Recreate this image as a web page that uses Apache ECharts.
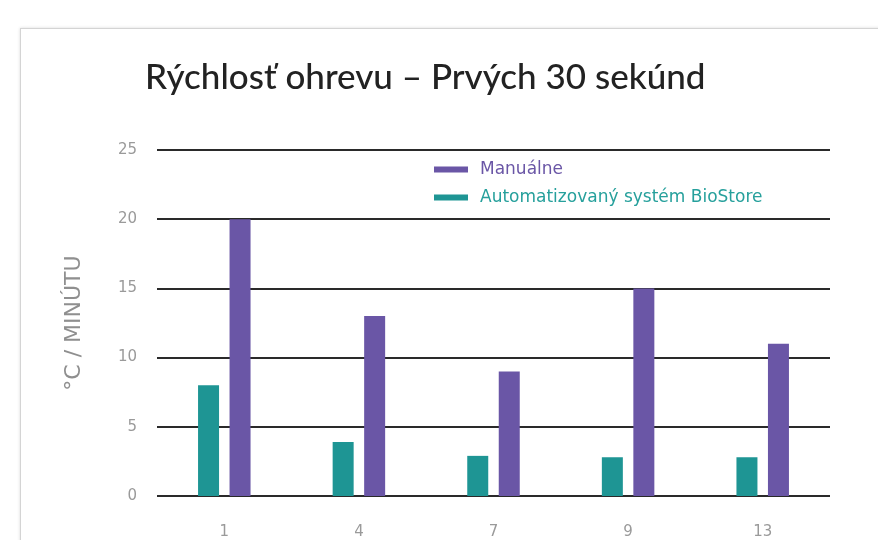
<!DOCTYPE html>
<html>
<head>
<meta charset="utf-8">
<script src="https://cdn.jsdelivr.net/npm/echarts@6/dist/echarts.min.js"></script>
<style>
  html, body { margin: 0; padding: 0; background: #fff; }
  #card { position: absolute; left: 20px; top: 28px; width: 900px; height: 600px;
          border: 1px solid #d4d4d4; box-shadow: 0 0 3px rgba(0,0,0,0.15); }
  #chart { position: absolute; left: 0; top: 0; width: 878px; height: 540px; }
</style>
</head>
<body>
<div id="card"></div>
<div id="chart"></div>
<script>
// dáta z grafu
var categories = ['1', '4', '7', '9', '13'];
var manualne = [20, 13, 9, 15, 11];
var bioStore = [8, 3.9, 2.9, 2.8, 2.8];
var yTicks = [0, 5, 10, 15, 20, 25];

var purple = '#6a56a6';
var teal = '#1e9594';

var chart = echarts.init(document.getElementById('chart'));

var option = {
    title: {
        text: 'Rýchlosť ohrevu – Prvých 30 sekúnd',
        left: 140,
        top: 55,
        textStyle: {
            fontFamily: 'Lato',
            fontSize: 35,
            fontWeight: 500,
            color: '#222'
        }
    },
    legend: {
        data: [
            { name: 'Manuálne', textStyle: { color: purple } },
            { name: 'Automatizovaný systém BioStore', textStyle: { color: '#26a09c' } }
        ],
        orient: 'vertical',
        left: 429,
        top: 156,
        itemWidth: 34,
        itemHeight: 6,
        itemGap: 11,
        icon: 'rect',
        textStyle: {
            fontFamily: 'DejaVu Sans',
            fontSize: 17,
            padding: [0, 0, 0, 7]
        }
    },
    grid: {
        left: 157,
        right: 48,
        top: 150,
        bottom: 44
    },
    xAxis: {
        type: 'category',
        data: categories,
        axisLine: { show: false },
        axisTick: { show: false },
        axisLabel: {
            margin: 29,
            fontFamily: 'DejaVu Sans',
            fontSize: 15,
            color: '#9a9a9a'
        }
    },
    yAxis: {
        type: 'value',
        min: yTicks[0],
        max: yTicks[yTicks.length - 1],
        interval: 5,
        name: '°C / MINÚTU',
        nameLocation: 'middle',
        nameRotate: 90,
        nameGap: 72,
        nameTextStyle: {
            fontFamily: 'DejaVu Sans',
            fontSize: 22,
            color: '#8f8f8f'
        },
        axisLine: { show: false },
        axisTick: { show: false },
        axisLabel: {
            margin: 20,
            fontFamily: 'DejaVu Sans',
            fontSize: 15,
            color: '#9a9a9a'
        },
        splitLine: {
            lineStyle: { color: '#2a2a2a', width: 2 }
        }
    },
    series: [
        {
            name: 'Automatizovaný systém BioStore',
            type: 'bar',
            data: bioStore,
            barWidth: 21,
            barGap: '50%',
            itemStyle: { color: teal }
        },
        {
            name: 'Manuálne',
            type: 'bar',
            data: manualne,
            barWidth: 21,
            barGap: '50%',
            itemStyle: { color: purple }
        }
    ]
};

chart.setOption(option);
</script>
</body>
</html>
